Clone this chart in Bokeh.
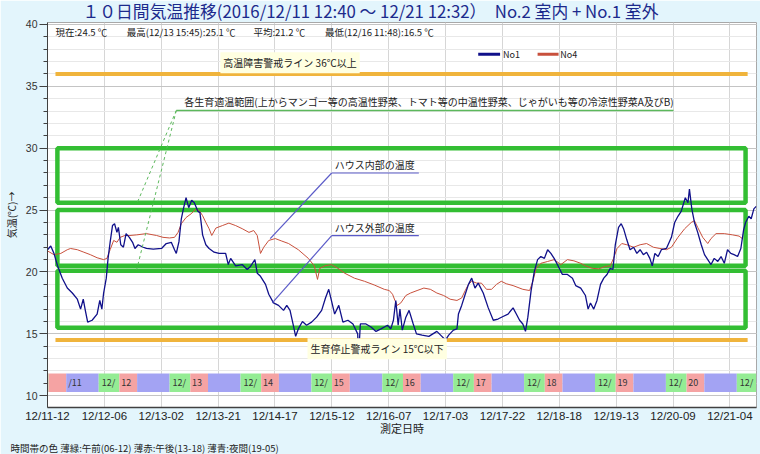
from bokeh.plotting import figure
from bokeh.models import Label, FixedTicker, Range1d, Title
from bokeh.embed import file_html
from bokeh.resources import INLINE
from bokeh.core.properties import value

FONT = "Noto Sans CJK JP"
LATIN = "Liberation Sans"

# ---------------- data (x = hours since 2016/12/11 12:40) ----------------
no1_h = [0.0, 1.1, 2.2, 3.4, 5.0, 6.7, 8.4, 10.1, 11.2, 12.1,
         12.8, 13.6, 15.1, 16.8, 17.7, 18.4, 19.0, 19.9, 20.5, 21.2,
         22.0, 22.7, 23.5, 24.0, 24.8, 25.7, 26.6, 27.7, 28.8, 29.6,
         30.7, 32.4, 33.5, 35.8, 38.6, 40.2, 41.9, 43.0, 43.6, 44.5,
         45.3, 46.0, 46.9, 47.8, 48.8, 49.7, 50.9, 51.6, 52.5, 53.6,
         54.7, 56.4, 58.1, 60.3, 61.2, 62.0, 63.7, 65.9, 67.6, 68.7,
         70.2, 71.0, 72.1, 73.8, 74.9, 76.5, 78.2, 79.9, 81.0, 82.1,
         83.2, 84.0, 84.9, 86.3, 87.7, 89.4, 91.1, 92.8, 94.1, 95.2,
         96.1, 97.2, 98.6, 100.0, 101.7, 103.4, 105.0, 105.3, 105.9, 107.8,
         109.5, 111.2, 112.9, 115.1, 116.2, 117.1, 117.9, 118.7, 119.3, 120.1,
         121.3, 122.4, 123.8, 124.9, 126.8, 129.1, 131.8, 133.5, 134.7, 135.8,
         137.4, 138.6, 139.1, 140.2, 141.4, 142.5, 143.6, 144.7, 145.8, 147.5,
         149.2, 150.9, 152.5, 154.2, 155.9, 157.6, 158.7, 159.8, 160.9, 161.8,
         162.6, 163.7, 164.8, 165.9, 167.0, 168.2, 169.3, 170.4, 171.5, 172.6,
         174.3, 176.0, 177.7, 178.8, 180.5, 182.1, 183.0, 183.8, 184.9, 186.0,
         187.2, 188.3, 189.4, 190.5, 191.4, 192.2, 193.3, 194.2, 195.0, 196.1,
         197.2, 198.4, 199.5, 200.6, 201.7, 202.8, 203.9, 204.7, 205.6, 206.7,
         207.8, 209.5, 211.2, 212.3, 213.4, 214.5, 215.9, 216.8, 217.3, 218.1,
         219.0, 220.1, 221.3, 222.4, 223.5, 224.6, 225.7, 226.9, 228.0, 229.1,
         230.2, 231.3, 232.4, 233.6, 234.7, 235.6, 236.3, 237.4, 238.2, 239.1,
         239.9]
no1_t = [21.8, 22.1, 21.5, 20.5, 19.5, 18.7, 18.3, 17.8, 17.0, 17.8,
         16.9, 15.95, 16.1, 16.6, 17.7, 17.0, 18.3, 19.5, 21.1, 22.4,
         23.75, 23.9, 23.2, 23.6, 22.2, 22.0, 23.1, 22.8, 22.4, 21.9,
         22.2, 22.0, 21.9, 21.85, 21.9, 22.3, 22.4, 21.8, 21.5, 22.45,
         24.3, 25.1, 26.0, 25.2, 25.8, 25.6, 24.9, 24.8, 23.0, 22.2,
         21.9, 21.6, 21.5, 21.5, 20.6, 21.1, 20.5, 20.6, 20.2, 20.45,
         21.0, 19.9, 19.65, 19.0, 18.2, 17.5, 17.3, 16.9, 17.3, 16.9,
         15.7, 14.8, 15.4, 16.0, 15.7, 15.95, 16.35, 16.9, 17.9, 18.6,
         17.7, 16.6, 17.3, 15.95, 16.1, 15.8, 15.0, 13.2, 15.8, 15.8,
         15.55, 15.2, 15.4, 15.7, 15.4, 16.1, 17.7, 15.7, 17.0, 15.3,
         16.35, 16.9, 15.8, 15.0, 14.9, 14.8, 15.2, 14.8, 14.5, 14.9,
         15.3, 15.4, 16.6, 17.3, 18.2, 19.0, 19.5, 18.7, 19.1, 18.3,
         17.1, 16.1, 16.2, 16.4, 16.6, 17.1, 16.6, 16.1, 15.8, 15.2,
         16.35, 18.5, 20.05, 21.0, 21.25, 21.1, 21.8, 21.5, 21.1, 20.6,
         19.8, 19.8, 19.5, 18.9, 18.7, 18.1, 17.0, 17.5, 17.0, 17.7,
         19.0, 19.5, 19.8, 20.3, 20.2, 22.2, 23.6, 23.9, 23.5, 22.6,
         21.8, 22.0, 21.5, 21.8, 21.4, 21.6, 21.1, 20.5, 21.5, 21.25,
         21.8, 21.9, 22.8, 24.0, 24.5, 24.9, 26.0, 25.6, 26.7, 25.1,
         24.0, 23.2, 22.2, 21.4, 21.0, 20.6, 21.1, 20.85, 21.25, 20.7,
         21.8, 21.5, 21.4, 21.25, 21.9, 23.35, 24.0, 24.5, 24.3, 25.1,
         25.3]

no4_h = [0.0, 2.2, 4.5, 6.7, 7.8, 10.1, 12.3, 14.5, 16.8, 19.0,
         20.1, 21.2, 22.4, 23.5, 24.6, 26.2, 27.9, 30.2, 33.5, 36.9,
         39.1, 41.3, 43.0, 44.2, 45.3, 46.9, 48.6, 50.3, 51.4, 52.5,
         53.6, 54.7, 55.6, 57.0, 59.2, 61.4, 63.7, 65.9, 68.2, 69.8,
         71.0, 72.1, 73.2, 74.9, 77.1, 79.3, 81.6, 84.9, 88.3, 90.3,
         91.4, 92.2, 93.9, 96.1, 98.3, 100.6, 103.9, 107.3, 110.6, 114.0,
         115.7, 116.8, 117.6, 118.4, 119.6, 121.3, 122.9, 125.1, 127.4, 129.6,
         131.8, 134.1, 136.3, 138.6, 140.2, 141.4, 142.5, 143.6, 145.3, 146.9,
         148.6, 150.3, 152.0, 153.6, 155.3, 157.6, 160.9, 163.2, 164.3, 165.4,
         167.0, 169.3, 171.5, 173.8, 176.0, 178.2, 180.5, 182.1, 184.4, 186.6,
         188.8, 190.5, 191.6, 192.8, 194.4, 196.1, 198.4, 200.6, 202.8, 205.1,
         207.3, 209.5, 211.2, 213.4, 215.7, 217.9, 219.0, 220.1, 221.8, 223.5,
         224.6, 226.3, 229.1, 231.9, 234.1, 235.2]
no4_t = [21.7, 21.4, 21.5, 21.8, 21.9, 21.8, 21.6, 21.4, 21.15, 21.0,
         21.1, 21.8, 22.55, 22.4, 22.8, 22.95, 22.95, 23.0, 23.1, 22.95,
         22.8, 22.75, 22.8, 23.2, 23.9, 24.4, 24.7, 25.1, 24.95, 24.55,
         24.0, 23.5, 22.95, 23.55, 23.75, 23.95, 23.75, 23.5, 23.2, 23.35,
         22.95, 21.5, 22.0, 22.55, 22.7, 22.5, 22.3, 21.8, 21.1, 20.5,
         19.4, 20.3, 20.5, 20.6, 20.3, 19.9, 19.5, 19.25, 18.95, 18.6,
         18.5, 18.2, 17.7, 17.3, 17.5, 18.1, 18.3, 18.5, 18.7, 18.6,
         18.3, 18.1, 17.8, 17.7, 17.9, 18.5, 19.0, 19.25, 19.1, 19.1,
         18.6, 18.6, 19.0, 19.25, 19.05, 18.9, 18.6, 18.5, 19.25, 20.3,
         20.7, 20.85, 21.0, 20.6, 21.0, 20.9, 20.7, 20.5, 20.3, 20.25,
         20.45, 20.5, 21.1, 21.9, 22.3, 22.2, 22.0, 22.2, 22.3, 22.0,
         21.9, 21.8, 22.0, 22.8, 23.5, 24.0, 24.15, 23.6, 22.8, 22.3,
         22.7, 23.1, 23.1, 23.0, 22.9, 22.7]

x_tick_labels = ["12/11-12", "12/12-06", "12/13-02", "12/13-21", "12/14-17",
                 "12/15-12", "12/16-07", "12/17-03", "12/17-22", "12/18-18",
                 "12/19-13", "12/20-09", "12/21-04"]
x_tick_step_h = 19.25
y_major_ticks = [10, 15, 20, 25, 30, 35, 40]

warn_values = [36.0, 14.5]
warn_texts = ["高温障害警戒ライン 36℃以上", "生育停止警戒ライン 15℃以下"]
growth_low = [25.6, 20.5, 15.5]
growth_high = [30.0, 25.0, 20.1]

start_clock = 12 + 40 / 60      # 12:40 on 12/11
end_hours = 239.87              # 12/21 12:32
days = list(range(11, 22))
band_clock = [(6, 13), (13, 19), (19, 30)]
band_colors = ["#94EC94", "#F5A3A3", "#A3A3F3"]
stats_texts = ["現在:24.5 ℃", "最高(12/13 15:45):25.1 ℃", "平均:21.2 ℃", "最低(12/16 11:48):16.5 ℃"]

# ---------------- figure ----------------
p = figure(width=760, height=454, x_range=Range1d(0, 240), y_range=Range1d(9.05, 40.16),
           output_backend="svg", toolbar_location=None,
           min_border_left=40, min_border_right=4, min_border_top=20, min_border_bottom=42,
           border_fill_color="#E3F5FC", background_fill_color="white")
p.outline_line_color = "#A8A8A8"

p.title.text = "１０日間気温推移(2016/12/11 12:40 ～ 12/21 12:32）　No.2 室内 + No.1 室外"
p.title.text_font = FONT
p.title.text_font_size = "16.8px"
p.title.text_font_style = "normal"
p.title.text_color = "#1C2A8C"
p.title.align = "left"
p.title.vertical_align = "top"
p.title.offset = 35
p.title.standoff = -4

# grid
xt = [i * x_tick_step_h for i in range(len(x_tick_labels))]
p.xgrid.ticker = FixedTicker(ticks=xt)
p.xgrid.grid_line_color = "#D6D6D6"
p.ygrid.grid_line_color = "#C4C4C4"
p.ygrid.minor_grid_line_color = "#E8E8E8"

# axes
p.xaxis.ticker = FixedTicker(ticks=xt)
p.xaxis.major_label_overrides = {t: l for t, l in zip(xt, x_tick_labels)}
p.xaxis.major_label_text_font = LATIN
p.xaxis.major_label_text_font_size = "11.5px"
p.xaxis.major_label_text_color = "#222222"
p.xaxis.major_tick_out = 0
p.xaxis.major_tick_in = 0
p.xaxis.minor_tick_line_color = None
p.xaxis.major_label_standoff = 2
p.xaxis.axis_line_color = "#404040"
p.xaxis.axis_line_width = 1.5
p.xaxis.major_tick_line_color = "#404040"
p.xaxis.axis_label = "測定日時"
p.xaxis.axis_label_text_font = FONT
p.xaxis.axis_label_text_font_size = "11px"
p.xaxis.axis_label_text_font_style = "normal"
p.xaxis.axis_label_text_color = "#222222"
p.xaxis.axis_label_standoff = -5

p.yaxis.ticker = FixedTicker(ticks=y_major_ticks, minor_ticks=list(range(10, 41)))
p.yaxis.major_label_text_font = LATIN
p.yaxis.major_label_text_font_size = "10.5px"
p.yaxis.major_label_text_color = "#333333"
p.yaxis.major_tick_out = 8
p.yaxis.major_tick_in = 0
p.yaxis.minor_tick_out = 4
p.yaxis.minor_tick_in = 0
p.yaxis.major_label_standoff = 2
p.yaxis.axis_line_color = "#404040"
p.yaxis.major_tick_line_color = "#404040"
p.yaxis.minor_tick_line_color = "#404040"
p.yaxis.axis_label = "気温(℃)→"
p.yaxis.axis_label_text_font = FONT
p.yaxis.axis_label_text_font_size = "10px"
p.yaxis.axis_label_text_font_style = "normal"
p.yaxis.axis_label_text_color = "#222222"
p.yaxis.axis_label_standoff = 4

footer = Title(text="時間帯の色 薄緑:午前(06-12) 薄赤:午後(13-18) 薄青:夜間(19-05)",
               text_font=FONT, text_font_size="9.5px", text_font_style="normal",
               text_color="#222222", align="left", offset=-37, standoff=0)
p.add_layout(footer, "below")

# time-of-day blocks
bl, br, bc = [], [], []
for d in days:
    for (a, b), c in zip(band_clock, band_colors):
        h0 = (d - 11) * 24 + a - start_clock
        h1 = (d - 11) * 24 + b - start_clock
        h0, h1 = max(h0, 0.0), min(h1, end_hours)
        if h1 > h0:
            bl.append(h0); br.append(h1); bc.append(c)
p.quad(left=bl, right=br, bottom=10.3, top=11.8, fill_color=bc, line_color=None)

tx, tt = [], []
tx.append(19 - start_clock + 0.7); tt.append("/11")
for d in days[1:]:
    tx.append((d - 11) * 24 + 6 - start_clock + 1.0); tt.append("12/")
    if (d - 11) * 24 + 13 - start_clock < end_hours:
        tx.append((d - 11) * 24 + 13 - start_clock + 0.6); tt.append(str(d))
p.text(x=tx, y=[11.05] * len(tx), text=tt, text_font=value(FONT), text_font_size="9px",
       text_color="#333333", text_baseline="middle", text_align="left")

# growth ranges
p.quad(left=3.35, right=236.3, bottom=growth_low, top=growth_high,
       fill_alpha=0, line_color="#33BE33", line_width=4.5)

# warning lines
p.segment(x0=2.7, x1=237.0, y0=warn_values, y1=warn_values, line_color="#F0B43C", line_width=4)

# series
p.line(no4_h, no4_t, line_color="#C8503C", line_width=1)
p.line(no1_h, no1_t, line_color="#10108A", line_width=1.3)

# annotation lines
p.segment(x0=43.6, y0=33.05, x1=211.9, y1=33.05, line_color="#5CB85C", line_width=1.5)
p.segment(x0=[43.6, 43.6], y0=[33.05, 33.05], x1=[30.2, 30.2], y1=[25.5, 20.2],
          line_color="#5CB85C", line_width=1, line_dash="3 3")
p.segment(x0=[96.2, 96.2], y0=[28.0, 22.94], x1=[125.7, 125.7], y1=[28.0, 22.94],
          line_color="#5A5AC8", line_width=1.2)
p.segment(x0=[96.2, 96.2], y0=[28.0, 22.94], x1=[75.4, 76.1], y1=[22.7, 17.5],
          line_color="#5A5AC8", line_width=1.2)

# legend samples
p.segment(x0=[145.8, 165.9], x1=[153.2, 173.0], y0=[37.6, 37.6], y1=[37.6, 37.6],
          line_color=["#10108A", "#C8503C"], line_width=3)


def lab(x, y, text, size="10px", color="#222222", align="left", bg=None):
    kw = dict(x=x, y=y, text=text, text_font=FONT, text_font_size=size, text_color=color,
              text_align=align, text_baseline="middle")
    if bg:
        kw.update(background_fill_color=bg, padding=3)
    p.add_layout(Label(**kw))


lab(154.2, 37.6, "No1", size="9px")
lab(173.6, 37.6, "No4", size="9px")
for xh, s in zip([2.7, 26.8, 69.7, 93.9], stats_texts):
    lab(xh, 39.37, s, size="9.5px")
lab(82.1, 36.9, warn_texts[0], bg="#FFFFE1", align="center")
lab(111.6, 13.8, warn_texts[1], bg="#FFFFE1", align="center")
lab(46.3, 33.75, "各生育適温範囲(上からマンゴー等の高温性野菜、トマト等の中温性野菜、じゃがいも等の冷涼性野菜A及びB)")
lab(97.2, 28.65, "ハウス内部の温度")
lab(97.2, 23.6, "ハウス外部の温度")

open("out.html", "w").write(file_html(p, INLINE))
